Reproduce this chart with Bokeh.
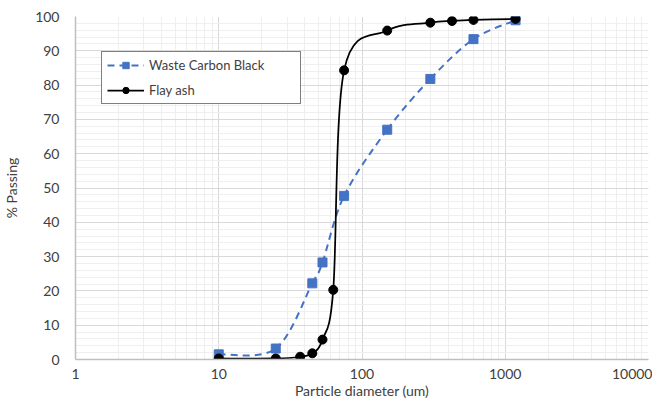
import numpy as np
from bokeh.plotting import figure
from bokeh.models import (FixedTicker, SingleIntervalTicker, PrintfTickFormatter,
                          Legend, LegendItem, ColumnDataSource, Range1d)
from bokeh.embed import file_html
from bokeh.resources import INLINE

# ---- data ----
wcb_size = [10, 25, 45, 53, 75, 150, 300, 600, 1180]
wcb_pass = [1.5, 3.2, 22.2, 28.3, 47.7, 67.0, 81.8, 93.4, 98.9]

ash_size = [10, 25, 37, 45, 53, 63, 75, 150, 300, 425, 600, 1180]
ash_pass = [0.3, 0.3, 0.8, 1.8, 5.8, 20.3, 84.3, 95.9, 98.2, 98.7, 99.0, 99.3]

x_ticks = [1, 10, 100, 1000, 10000]
series_names = ["Waste Carbon Black", "Flay ash"]

FONT = "Lato"
TXT = "#404040"


def smooth_segments(xs, ys):
    u = np.log10(np.asarray(xs, float))
    v = np.asarray(ys, float)
    n = len(u)
    d = dict(x0=[], y0=[], x1=[], y1=[], cx0=[], cy0=[], cx1=[], cy1=[])
    for i in range(n - 1):
        im1 = max(i - 1, 0)
        ip2 = min(i + 2, n - 1)
        c0u = u[i] + (u[i + 1] - u[im1]) / 6.0
        c0v = v[i] + (v[i + 1] - v[im1]) / 6.0
        c1u = u[i + 1] - (u[ip2] - u[i]) / 6.0
        c1v = v[i + 1] - (v[ip2] - v[i]) / 6.0
        d["x0"].append(10 ** u[i]); d["y0"].append(v[i])
        d["x1"].append(10 ** u[i + 1]); d["y1"].append(v[i + 1])
        d["cx0"].append(10 ** c0u); d["cy0"].append(c0v)
        d["cx1"].append(10 ** c1u); d["cy1"].append(c1v)
    return ColumnDataSource(d)


p = figure(width=652, height=401, x_axis_type="log",
           x_range=Range1d(1, 10000), y_range=Range1d(0, 100),
           output_backend="svg", toolbar_location=None,
           min_border_left=70, min_border_right=4,
           min_border_top=16, min_border_bottom=38)
p.outline_line_color = None
p.background_fill_color = "white"
p.border_fill_color = "white"

minor = [m * 10 ** k for k in range(0, 4) for m in range(2, 10)]
p.xaxis.ticker = FixedTicker(ticks=x_ticks, minor_ticks=minor)
p.xaxis.formatter = PrintfTickFormatter(format="%d")
p.yaxis.ticker = SingleIntervalTicker(interval=10, num_minor_ticks=5)

for ax in (p.xaxis, p.yaxis):
    ax.major_tick_line_color = None
    ax.minor_tick_line_color = None
    ax.major_tick_out = 0
    ax.major_tick_in = 0
    ax.minor_tick_out = 0
    ax.minor_tick_in = 0
    ax.axis_line_color = "#bfbfbf"
    ax.axis_line_width = 1.5
    ax.major_label_text_font = FONT
    ax.major_label_text_font_size = "14px"
    ax.major_label_text_color = TXT
    ax.axis_label_text_font = FONT
    ax.axis_label_text_font_size = "14px"
    ax.axis_label_text_font_style = "normal"
    ax.axis_label_text_color = TXT

p.xaxis.axis_label = "Particle diameter (um)"
p.yaxis.axis_label = "% Passing"
p.xaxis.major_label_standoff = 9
p.xaxis.axis_label_standoff = 0
p.yaxis.major_label_standoff = 16
p.yaxis.axis_label_standoff = 12

for g in (p.xgrid, p.ygrid):
    g.grid_line_color = "#d9d9d9"
    g.grid_line_width = 1
    g.minor_grid_line_color = "#efefef"
    g.minor_grid_line_width = 1

BLUE = "#4472c4"

s1 = smooth_segments(wcb_size, wcb_pass)
r1l = p.bezier(x0="x0", y0="y0", x1="x1", y1="y1", cx0="cx0", cy0="cy0",
               cx1="cx1", cy1="cy1", source=s1, line_color=BLUE,
               line_width=2, line_dash="7 5")
r1m = p.scatter(wcb_size, wcb_pass, marker="square", size=9,
                fill_color=BLUE, line_color=BLUE)

s2 = smooth_segments(ash_size, ash_pass)
r2l = p.bezier(x0="x0", y0="y0", x1="x1", y1="y1", cx0="cx0", cy0="cy0",
               cx1="cx1", cy1="cy1", source=s2, line_color="black",
               line_width=1.75)
r2m = p.scatter(ash_size, ash_pass, marker="circle", size=9,
                fill_color="black", line_color="black")

legend = Legend(items=[LegendItem(label=series_names[0], renderers=[r1l, r1m]),
                       LegendItem(label=series_names[1], renderers=[r2l, r2m])],
                location=(26, 255))
legend.border_line_color = "black"
legend.border_line_width = 1
legend.background_fill_color = "white"
legend.background_fill_alpha = 1
legend.padding = 5
legend.spacing = 9
legend.glyph_width = 37
legend.glyph_height = 16
legend.label_height = 16
legend.label_width = 146
legend.label_standoff = 5
legend.margin = 0
legend.label_text_font = FONT
legend.label_text_font_size = "13px"
legend.label_text_color = TXT
p.add_layout(legend, "center")

open("out.html", "w").write(file_html(p, INLINE))
